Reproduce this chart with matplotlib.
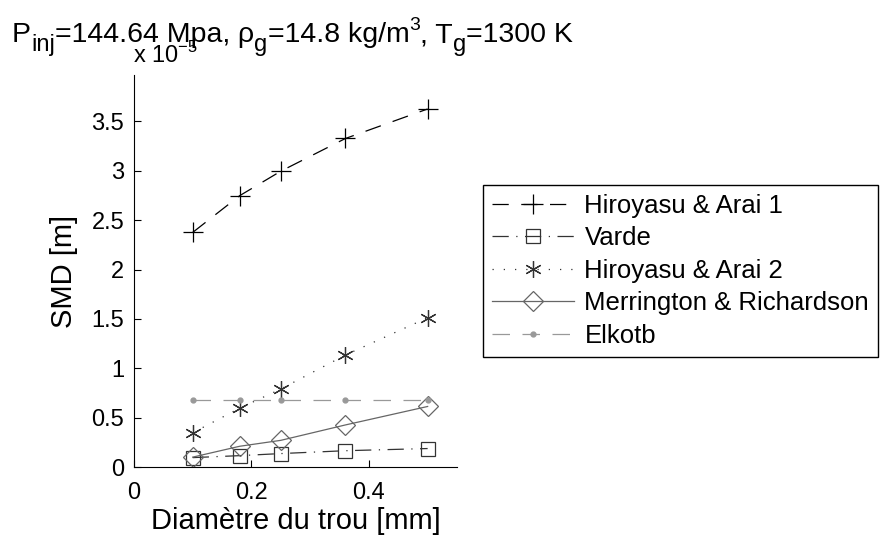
import numpy as np
import matplotlib
matplotlib.use('Agg')
import matplotlib.pyplot as plt

plt.rcParams['font.family'] = ['Liberation Sans', 'DejaVu Sans']

diam = [0.1, 0.18, 0.25, 0.36, 0.5]
hiroyasu1 = [2.376, 2.748, 2.996, 3.327, 3.626]
varde = [0.095, 0.115, 0.136, 0.165, 0.187]
hiroyasu2 = [0.347, 0.596, 0.79, 1.134, 1.512]
merrington = [0.10, 0.21, 0.27, 0.426, 0.613]
elkotb = [0.674, 0.674, 0.674, 0.674, 0.674]

# title pieces: (text, kind) with kind n = normal, b = subscript, p = superscript
title_parts = [('P', 'n'), ('inj', 'b'), ('=144.64 Mpa,', 'n'), (' ρ', 'n'),
               ('g', 'b'), ('=14.8 kg/m', 'n'), ('3', 'p'), (', T', 'n'),
               ('g', 'b'), ('=1300 K', 'n')]

W, H = 883, 536
fig = plt.figure(figsize=(W / 100, H / 100), dpi=100)
ax = fig.add_axes([134 / W, 1 - 467 / H, 323 / W, 392 / H])

ax.plot(diam, hiroyasu1, color='black', linestyle=(0, (13, 10)), linewidth=0.9,
        marker='+', markersize=14, markeredgewidth=0.9, label='Hiroyasu & Arai 1')
ax.plot(diam, varde, color='#333333', linestyle=(0, (13, 6, 1, 6)), linewidth=0.9,
        marker='s', markersize=10, markerfacecolor='none', markeredgewidth=0.9,
        label='Varde')
ax.plot(diam, hiroyasu2, color='#333333', linestyle=(0, (1, 8)), linewidth=0.9,
        marker=(6, 2, 0), markersize=12, markeredgewidth=0.9, label='Hiroyasu & Arai 2')
ax.plot(diam, merrington, color='#666666', linestyle='-', linewidth=0.9,
        marker='D', markersize=10, markerfacecolor='none', markeredgewidth=0.9,
        label='Merrington & Richardson')
ax.plot(diam, elkotb, color='#999999', linestyle=(0, (14, 10)), linewidth=0.9,
        marker='.', markersize=7, label='Elkotb')

ax.set_xlim(0, 0.55)
ax.set_ylim(0, 3.97)
ax.set_xticks([0, 0.2, 0.4])
ax.set_xticklabels(['0', '0.2', '0.4'])
ax.set_yticks([0, 0.5, 1, 1.5, 2, 2.5, 3, 3.5])
ax.set_yticklabels(['0', '0.5', '1', '1.5', '2', '2.5', '3', '3.5'])
ax.tick_params(direction='in', labelsize=17, length=5, width=0.8)
ax.tick_params(axis='x', pad=11)
ax.tick_params(axis='y', pad=7)
for s in ['top', 'right']:
    ax.spines[s].set_visible(False)
for s in ['left', 'bottom']:
    ax.spines[s].set_linewidth(0.8)

ax.set_xlabel('Diamètre du trou [mm]', fontsize=21, labelpad=2)
ax.set_ylabel('SMD [m]', fontsize=21, labelpad=10)
fig.text(133 / W, 1 - 63 / H, r'x 10$^{\mathregular{-5}}$', fontsize=17,
         ha='left', va='baseline')

# title built piece by piece so sub/superscripts keep a MATLAB-like size
base = H - 42
sizes = {'n': 20.5, 'b': 17, 'p': 14}
shift = {'n': 0, 'b': -9, 'p': 12}
prev = fig.text(12 / W, base / H, title_parts[0][0], fontsize=sizes['n'],
                ha='left', va='baseline')
for txt, kind in title_parts[1:]:
    prev = ax.annotate(txt, xy=(1, base + shift[kind]),
                       xycoords=(prev, 'figure pixels'),
                       fontsize=sizes[kind], ha='left', va='baseline',
                       annotation_clip=False)

leg = ax.legend(loc='upper left', bbox_to_anchor=(483 / W, 1 - 185 / H),
                bbox_transform=fig.transFigure, fontsize=18.5,
                numpoints=1, handlelength=3.2, handletextpad=0.4,
                borderpad=0.35, labelspacing=0.33, fancybox=False,
                framealpha=1, edgecolor='black', borderaxespad=0)
leg.get_frame().set_linewidth(1.0)

plt.savefig('out.png', dpi=100)
